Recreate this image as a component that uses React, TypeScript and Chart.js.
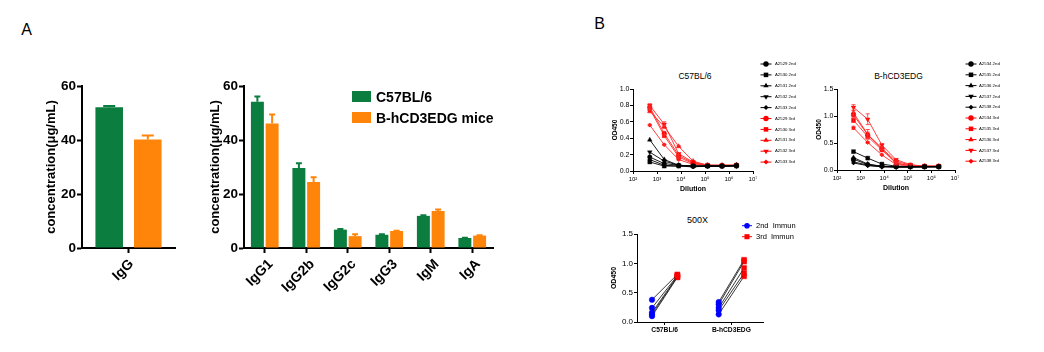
import React, { useEffect, useRef } from 'react';
import { Chart, registerables } from 'chart.js';

Chart.register(...registerables);

const FONT = '"Liberation Sans", Arial, Helvetica, sans-serif';
const GREEN = '#0b7d3e';
const ORANGE = '#ff850a';
const RED = '#ff0000';
const RED_LINE = '#ff2a2a';
const BLUE = '#0000ff';
const BLACK = '#000000';

// ---------------- Panel A data ----------------
const totalCategories = ['IgG'];
const totalC57 = [52.1];
const totalC57Sd = [0.5];
const totalHcd = [40.2];
const totalHcdSd = [1.5];

const subclassCategories = ['IgG1', 'IgG2b', 'IgG2c', 'IgG3', 'IgM', 'IgA'];
const subclassC57 = [54.2, 29.6, 6.8, 4.9, 11.9, 3.7];
const subclassC57Sd = [1.9, 1.8, 0.2, 0.2, 0.2, 0.1];
const subclassHcd = [46.1, 24.4, 4.4, 6.3, 13.7, 4.6];
const subclassHcdSd = [3.3, 1.8, 0.7, 0.1, 0.6, 0.1];

const groupLabels = ['C57BL/6', 'B-hCD3EDG mice'];

// ---------------- Panel B data ----------------
const dilutions = [500, 2000, 8000, 32000, 128000, 512000, 2048000];
const logTickExponents = [2, 3, 4, 5, 6, 7];

const c57SecondLabels = ['A2529 2nd', 'A2530 2nd', 'A2531 2nd', 'A2532 2nd', 'A2533 2nd'];
const c57ThirdLabels = ['A2529 3rd', 'A2530 3rd', 'A2531 3rd', 'A2532 3rd', 'A2533 3rd'];
const c57Second = [
  [0.17, 0.09, 0.07, 0.06, 0.06, 0.06, 0.07],
  [0.11, 0.06, 0.06, 0.06, 0.06, 0.06, 0.06],
  [0.38, 0.14, 0.07, 0.06, 0.06, 0.06, 0.07],
  [0.23, 0.12, 0.07, 0.06, 0.06, 0.06, 0.06],
  [0.14, 0.07, 0.06, 0.05, 0.06, 0.06, 0.06],
];
const c57Third = [
  [0.78, 0.46, 0.19, 0.10, 0.07, 0.07, 0.07],
  [0.76, 0.43, 0.17, 0.09, 0.07, 0.06, 0.07],
  [0.73, 0.54, 0.30, 0.12, 0.07, 0.07, 0.07],
  [0.80, 0.57, 0.21, 0.11, 0.07, 0.07, 0.07],
  [0.56, 0.32, 0.14, 0.08, 0.07, 0.06, 0.07],
];
const c57ThirdSd = [
  [0.02, 0.02, 0.01, 0, 0, 0, 0],
  [0.02, 0.02, 0.01, 0, 0, 0, 0],
  [0.02, 0.02, 0.01, 0, 0, 0, 0],
  [0.02, 0.03, 0.01, 0, 0, 0, 0],
  [0.01, 0.01, 0.01, 0, 0, 0, 0],
];

const hcdSecondLabels = ['A2534 2nd', 'A2535 2nd', 'A2536 2nd', 'A2537 2nd', 'A2538 2nd'];
const hcdThirdLabels = ['A2534 3rd', 'A2535 3rd', 'A2536 3rd', 'A2537 3rd', 'A2538 3rd'];
const hcdSecond = [
  [0.20, 0.10, 0.07, 0.06, 0.06, 0.06, 0.06],
  [0.34, 0.22, 0.11, 0.07, 0.06, 0.06, 0.06],
  [0.23, 0.11, 0.07, 0.06, 0.06, 0.06, 0.06],
  [0.15, 0.09, 0.06, 0.06, 0.06, 0.06, 0.06],
  [0.13, 0.08, 0.06, 0.05, 0.05, 0.06, 0.06],
];
const hcdThird = [
  [1.02, 0.65, 0.40, 0.16, 0.09, 0.07, 0.07],
  [0.92, 0.62, 0.37, 0.13, 0.08, 0.07, 0.07],
  [1.06, 0.66, 0.40, 0.12, 0.08, 0.07, 0.07],
  [1.16, 0.94, 0.46, 0.19, 0.10, 0.07, 0.07],
  [0.78, 0.51, 0.28, 0.10, 0.07, 0.06, 0.07],
];
const hcdThirdSd = [
  [0.04, 0.05, 0.02, 0.01, 0, 0, 0],
  [0.04, 0.03, 0.02, 0.01, 0, 0, 0],
  [0.04, 0.09, 0.03, 0.01, 0, 0, 0],
  [0.05, 0.10, 0.03, 0.02, 0.01, 0, 0],
  [0.03, 0.02, 0.01, 0.01, 0, 0, 0],
];

const markerStyles = ['circle', 'rect', 'triangle', 'triangle', 'rectRot'];
const markerRotations = [0, 0, 0, 180, 0];
const markerRadii = [2.3, 2.8, 2.7, 2.7, 2.1];

const immunGroups = ['C57BL/6', 'B-hCD3EDG'];
const immunLegend = ['2nd  Immun', '3rd  Immun'];
const c57Second500 = [0.38, 0.24, 0.16, 0.13, 0.10];
const c57Third500 = [0.81, 0.79, 0.78, 0.77, 0.76];
const hcdSecond500 = [0.34, 0.30, 0.24, 0.20, 0.13];
const hcdThird500 = [1.06, 1.03, 0.92, 0.83, 0.78];

// ---------------- helpers ----------------
const SUP: Record<string, string> = { '0': '⁰', '1': '¹', '2': '²', '3': '³', '4': '⁴', '5': '⁵', '6': '⁶', '7': '⁷', '8': '⁸', '9': '⁹' };
const sup = (n: number) => String(n).split('').map((c) => SUP[c] || c).join('');

function drawMarker(ctx: CanvasRenderingContext2D, style: string, x: number, y: number, r: number, rot = 0) {
  ctx.save();
  ctx.translate(x, y);
  ctx.rotate((rot * Math.PI) / 180);
  ctx.beginPath();
  if (style === 'circle') {
    ctx.arc(0, 0, r, 0, Math.PI * 2);
  } else if (style === 'rect') {
    const s = r * Math.SQRT1_2;
    ctx.rect(-s, -s, 2 * s, 2 * s);
  } else if (style === 'triangle') {
    for (let k = 0; k < 3; k++) {
      const a = (k * 2 * Math.PI) / 3;
      const px = Math.sin(a) * r;
      const py = -Math.cos(a) * r;
      if (k === 0) ctx.moveTo(px, py);
      else ctx.lineTo(px, py);
    }
    ctx.closePath();
  } else if (style === 'rectRot') {
    ctx.moveTo(0, -r);
    ctx.lineTo(r, 0);
    ctx.lineTo(0, r);
    ctx.lineTo(-r, 0);
    ctx.closePath();
  }
  ctx.fill();
  ctx.restore();
}

const errorBarPlugin = {
  id: 'errorBars',
  afterDatasetsDraw(chart: any) {
    const { ctx } = chart;
    chart.data.datasets.forEach((ds: any, i: number) => {
      const errs = ds.errors;
      if (!errs) return;
      const meta = chart.getDatasetMeta(i);
      const yScale = chart.scales[meta.yAxisID];
      ctx.save();
      ctx.strokeStyle = ds.errorColor;
      ctx.lineWidth = ds.errorWidth;
      meta.data.forEach((el: any, j: number) => {
        const e = errs[j];
        if (!e) return;
        const raw = ds.data[j];
        const v = typeof raw === 'number' ? raw : raw.y;
        const x = el.x;
        const yHi = yScale.getPixelForValue(v + e);
        const yLo = ds.errorBoth ? yScale.getPixelForValue(v - e) : el.y;
        const cw = ds.errorCap / 2;
        ctx.beginPath();
        ctx.moveTo(x, yLo);
        ctx.lineTo(x, yHi);
        ctx.moveTo(x - cw, yHi);
        ctx.lineTo(x + cw, yHi);
        if (ds.errorBoth) {
          ctx.moveTo(x - cw, yLo);
          ctx.lineTo(x + cw, yLo);
        }
        ctx.stroke();
      });
      ctx.restore();
    });
  },
};

type LegendItem = { label: string; color: string; style: string; rotation: number; radius: number };
function makeLegendPlugin(spec: {
  items: LegendItem[];
  x: number;
  y: number;
  dy: number;
  textX: number;
  lineLen: number;
  fontSize: number;
}) {
  return {
    id: 'miniLegend',
    afterDraw(chart: any) {
      const ctx: CanvasRenderingContext2D = chart.ctx;
      spec.items.forEach((it, i) => {
        const y = spec.y + i * spec.dy;
        ctx.save();
        ctx.strokeStyle = it.color;
        ctx.lineWidth = 1;
        ctx.beginPath();
        ctx.moveTo(spec.x - spec.lineLen / 2, y);
        ctx.lineTo(spec.x + spec.lineLen / 2, y);
        ctx.stroke();
        ctx.fillStyle = it.color;
        drawMarker(ctx, it.style, spec.x, y, it.radius, it.rotation);
        ctx.fillStyle = BLACK;
        ctx.font = `${spec.fontSize}px ${FONT}`;
        ctx.textAlign = 'left';
        ctx.textBaseline = 'middle';
        ctx.fillText(it.label, spec.textX, y);
        ctx.restore();
      });
    },
  };
}

// ---------------- chart configs ----------------
function barConfig(p: {
  categories: string[];
  c57: number[];
  c57Sd: number[];
  hcd: number[];
  hcdSd: number[];
  yAxisWidth: number;
  padRight: number;
  padTop: number;
  xAxisHeight: number;
  titlePad: number;
  cp: number;
  bp: number;
  cap: number;
  labelOffset: number;
}) {
  const tickFont = { family: FONT, size: 13.5, weight: 'bold' as const };
  return {
    type: 'bar' as const,
    data: {
      labels: p.categories,
      datasets: [
        {
          label: groupLabels[0],
          data: p.c57,
          backgroundColor: GREEN,
          categoryPercentage: p.cp,
          barPercentage: p.bp,
          errors: p.c57Sd,
          errorColor: GREEN,
          errorWidth: 2,
          errorCap: p.cap,
        },
        {
          label: groupLabels[1],
          data: p.hcd,
          backgroundColor: ORANGE,
          categoryPercentage: p.cp,
          barPercentage: p.bp,
          errors: p.hcdSd,
          errorColor: ORANGE,
          errorWidth: 2,
          errorCap: p.cap,
        },
      ],
    },
    options: {
      responsive: false,
      maintainAspectRatio: false,
      animation: false,
      devicePixelRatio: 1,
      events: [],
      layout: { padding: { left: 0, right: p.padRight, top: p.padTop, bottom: 0 } },
      plugins: { legend: { display: false }, tooltip: { enabled: false } },
      scales: {
        x: {
          grid: { display: true, offset: false, drawOnChartArea: false, drawTicks: true, tickLength: 5, tickWidth: 2, tickColor: BLACK },
          border: { display: true, color: BLACK, width: 2 },
          ticks: {
            color: BLACK,
            font: { family: FONT, size: 14, weight: 'bold' as const },
            minRotation: 45,
            maxRotation: 45,
            padding: 3,
            labelOffset: p.labelOffset,
            autoSkip: false,
          },
          afterFit: (s: any) => {
            s.height = p.xAxisHeight;
          },
        },
        y: {
          min: 0,
          max: 60,
          ticks: { stepSize: 20, color: BLACK, font: tickFont, padding: 1 },
          grid: { display: true, drawOnChartArea: false, drawTicks: true, tickLength: 5, tickWidth: 2, tickColor: BLACK },
          border: { display: true, color: BLACK, width: 2 },
          title: {
            display: true,
            text: 'concentration(μg/mL)',
            color: BLACK,
            font: { family: FONT, size: 13, weight: 'bold' as const },
            padding: { top: p.titlePad, bottom: 0 },
          },
          afterFit: (s: any) => {
            s.width = p.yAxisWidth;
          },
        },
      },
    },
    plugins: [errorBarPlugin],
  };
}

function dilutionConfig(p: {
  second: number[][];
  third: number[][];
  thirdSd: number[][];
  secondLabels: string[];
  thirdLabels: string[];
  yMax: number;
  yStep: number;
  yAxisWidth: number;
  padRight: number;
  padTop: number;
  xAxisHeight: number;
  yTitlePad: number;
  xTitlePad: number;
  legendX: number;
  legendTextX: number;
  legendY: number;
  legendDy: number;
}) {
  const datasets: any[] = [];
  p.second.forEach((vals, i) =>
    datasets.push({
      label: p.secondLabels[i],
      data: dilutions.map((d, j) => ({ x: d, y: vals[j] })),
      borderColor: BLACK,
      backgroundColor: BLACK,
      pointBackgroundColor: BLACK,
      pointBorderColor: BLACK,
      borderWidth: 0.9,
      pointBorderWidth: 0.4,
      pointRadius: markerRadii[i],
      pointStyle: markerStyles[i],
      pointRotation: markerRotations[i],
    })
  );
  p.third.forEach((vals, i) =>
    datasets.push({
      label: p.thirdLabels[i],
      data: dilutions.map((d, j) => ({ x: d, y: vals[j] })),
      borderColor: RED_LINE,
      backgroundColor: RED,
      pointBackgroundColor: RED,
      pointBorderColor: RED,
      borderWidth: 0.9,
      pointBorderWidth: 0.4,
      pointRadius: markerRadii[i],
      pointStyle: markerStyles[i],
      pointRotation: markerRotations[i],
      errors: p.thirdSd[i],
      errorBoth: true,
      errorColor: RED_LINE,
      errorWidth: 0.8,
      errorCap: 4,
    })
  );
  const items: LegendItem[] = datasets.map((ds, i) => ({
    label: ds.label,
    color: i < 5 ? BLACK : RED,
    style: markerStyles[i % 5],
    rotation: markerRotations[i % 5],
    radius: markerRadii[i % 5] + 0.4,
  }));
  return {
    type: 'line' as const,
    data: { datasets },
    options: {
      responsive: false,
      maintainAspectRatio: false,
      animation: false,
      devicePixelRatio: 1,
      events: [],
      layout: { padding: { left: 0, right: p.padRight, top: p.padTop, bottom: 0 } },
      plugins: { legend: { display: false }, tooltip: { enabled: false } },
      scales: {
        x: {
          type: 'logarithmic' as const,
          min: 100,
          max: 1e7,
          afterBuildTicks: (s: any) => {
            s.ticks = logTickExponents.map((e) => ({ value: Math.pow(10, e) }));
          },
          ticks: {
            autoSkip: false,
            maxRotation: 0,
            color: BLACK,
            padding: 1.5,
            font: { family: FONT, size: 6 },
            callback: (v: any) => '10' + sup(Math.round(Math.log10(Number(v)))),
          },
          grid: { display: true, drawOnChartArea: false, drawTicks: true, tickLength: 3, tickWidth: 1, tickColor: BLACK },
          border: { display: true, color: BLACK, width: 1 },
          title: {
            display: true,
            text: 'Dilution',
            color: BLACK,
            font: { family: FONT, size: 7, weight: 'bold' as const },
            padding: { top: 0, bottom: p.xTitlePad },
          },
          afterFit: (s: any) => {
            s.height = p.xAxisHeight;
          },
        },
        y: {
          min: 0,
          max: p.yMax,
          ticks: {
            stepSize: p.yStep,
            color: BLACK,
            padding: 0.5,
            font: { family: FONT, size: 7 },
            callback: (v: any) => Number(v).toFixed(1),
          },
          grid: { display: true, drawOnChartArea: false, drawTicks: true, tickLength: 3, tickWidth: 1, tickColor: BLACK },
          border: { display: true, color: BLACK, width: 1 },
          title: {
            display: true,
            text: 'OD450',
            color: BLACK,
            font: { family: FONT, size: 6.5, weight: 'bold' as const },
            padding: { top: p.yTitlePad, bottom: 0 },
          },
          afterFit: (s: any) => {
            s.width = p.yAxisWidth;
          },
        },
      },
    },
    plugins: [
      errorBarPlugin,
      makeLegendPlugin({
        items,
        x: p.legendX,
        y: p.legendY,
        dy: p.legendDy,
        textX: p.legendTextX,
        lineLen: 11,
        fontSize: 4.3,
      }),
    ],
  };
}

function pairedConfig() {
  const offset = 0.19;
  const datasets: any[] = [];
  const groups = [
    { second: c57Second500, third: c57Third500 },
    { second: hcdSecond500, third: hcdThird500 },
  ];
  groups.forEach((g, gi) => {
    g.second.forEach((v, k) => {
      datasets.push({
        label: `${immunGroups[gi]} ${k + 1}`,
        data: [
          { x: gi + 1 - offset, y: v },
          { x: gi + 1 + offset, y: g.third[k] },
        ],
        borderColor: '#222222',
        borderWidth: 0.9,
        pointBackgroundColor: [BLUE, RED],
        pointBorderColor: [BLUE, RED],
        pointBorderWidth: 0.4,
        pointStyle: ['circle', 'rect'],
        pointRadius: [2.8, 3.6],
      });
    });
  });
  const items: LegendItem[] = [
    { label: immunLegend[0], color: BLUE, style: 'circle', rotation: 0, radius: 2.8 },
    { label: immunLegend[1], color: RED, style: 'rect', rotation: 0, radius: 3.6 },
  ];
  return {
    type: 'line' as const,
    data: { datasets },
    options: {
      responsive: false,
      maintainAspectRatio: false,
      animation: false,
      devicePixelRatio: 1,
      events: [],
      layout: { padding: { left: 0, right: 37, top: 22, bottom: 0 } },
      plugins: { legend: { display: false }, tooltip: { enabled: false } },
      scales: {
        x: {
          type: 'linear' as const,
          min: 0.585,
          max: 2.474,
          afterBuildTicks: (s: any) => {
            s.ticks = immunGroups.map((_, i) => ({ value: i + 1 }));
          },
          ticks: {
            autoSkip: false,
            maxRotation: 0,
            color: BLACK,
            padding: 1,
            font: { family: FONT, size: 6.7, weight: 'bold' as const },
            callback: (v: any) => immunGroups[Math.round(Number(v)) - 1],
          },
          grid: { display: true, drawOnChartArea: false, drawTicks: true, tickLength: 3, tickWidth: 1, tickColor: BLACK },
          border: { display: true, color: BLACK, width: 1 },
          afterFit: (s: any) => {
            s.height = 30;
          },
        },
        y: {
          min: 0,
          max: 1.5,
          ticks: {
            stepSize: 0.5,
            color: BLACK,
            padding: 1,
            font: { family: FONT, size: 8 },
            callback: (v: any) => Number(v).toFixed(1),
          },
          grid: { display: true, drawOnChartArea: false, drawTicks: true, tickLength: 3, tickWidth: 1, tickColor: BLACK },
          border: { display: true, color: BLACK, width: 1 },
          title: {
            display: true,
            text: 'OD450',
            color: BLACK,
            font: { family: FONT, size: 7, weight: 'bold' as const },
            padding: { top: 10.3, bottom: 0 },
          },
          afterFit: (s: any) => {
            s.width = 37;
          },
        },
      },
    },
    plugins: [
      makeLegendPlugin({ items, x: 147, y: 13.7, dy: 11, textX: 156, lineLen: 10, fontSize: 7.5 }),
    ],
  };
}

// ---------------- components ----------------
function ChartCanvas(props: { left: number; top: number; width: number; height: number; make: () => any }) {
  const ref = useRef<HTMLCanvasElement>(null);
  const { left, top, width, height, make } = props;
  useEffect(() => {
    const chart = new Chart(ref.current as HTMLCanvasElement, make());
    return () => chart.destroy();
  }, [make]);
  return (
    <canvas
      ref={ref}
      width={width}
      height={height}
      style={{ position: 'absolute', left, top, width, height }}
    />
  );
}

function Label(props: { x: number; y: number; text: string; size: number; weight?: string; align?: string }) {
  const { x, y, text, size, weight = 'normal', align = 'center' } = props;
  const tx = align === 'center' ? '-50%' : align === 'right' ? '-100%' : '0';
  return (
    <div
      style={{
        position: 'absolute',
        left: x,
        top: y,
        transform: `translate(${tx}, -50%)`,
        fontSize: size,
        fontWeight: weight as any,
        lineHeight: 1,
        whiteSpace: 'nowrap',
        fontFamily: FONT,
        color: BLACK,
      }}
    >
      {text}
    </div>
  );
}

const makeTotal = () =>
  barConfig({
    categories: totalCategories,
    c57: totalC57,
    c57Sd: totalC57Sd,
    hcd: totalHcd,
    hcdSd: totalHcdSd,
    yAxisWidth: 82,
    padRight: 25,
    padTop: 26,
    xAxisHeight: 44,
    titlePad: 43.6,
    cp: 0.83,
    bp: 0.714,
    cap: 12,
    labelOffset: 3,
  });

const makeSubclass = () =>
  barConfig({
    categories: subclassCategories,
    c57: subclassC57,
    c57Sd: subclassC57Sd,
    hcd: subclassHcd,
    hcdSd: subclassHcdSd,
    yAxisWidth: 44,
    padRight: 7,
    padTop: 26,
    xAxisHeight: 44,
    titlePad: 7.6,
    cp: 0.71,
    bp: 0.88,
    cap: 6,
    labelOffset: 6,
  });

const makeC57 = () =>
  dilutionConfig({
    second: c57Second,
    third: c57Third,
    thirdSd: c57ThirdSd,
    secondLabels: c57SecondLabels,
    thirdLabels: c57ThirdLabels,
    yMax: 1.0,
    yStep: 0.2,
    yAxisWidth: 33,
    padRight: 67,
    padTop: 39,
    xAxisHeight: 29,
    yTitlePad: 11.6,
    xTitlePad: 6.3,
    legendX: 166,
    legendTextX: 175,
    legendY: 14,
    legendDy: 10.9,
  });

const makeHcd = () =>
  dilutionConfig({
    second: hcdSecond,
    third: hcdThird,
    thirdSd: hcdThirdSd,
    secondLabels: hcdSecondLabels,
    thirdLabels: hcdThirdLabels,
    yMax: 1.5,
    yStep: 0.5,
    yAxisWidth: 32,
    padRight: 89,
    padTop: 39,
    xAxisHeight: 30,
    yTitlePad: 10.1,
    xTitlePad: 7.8,
    legendX: 166,
    legendTextX: 174,
    legendY: 14,
    legendDy: 10.8,
  });

export default function App() {
  return (
    <div
      style={{
        position: 'absolute',
        left: 0,
        top: 0,
        width: 1044,
        height: 352,
        background: '#ffffff',
        overflow: 'hidden',
        fontFamily: FONT,
      }}
    >
      <Label x={26.5} y={30} text="A" size={16} />
      <Label x={599.5} y={24} text="B" size={16} />

      <ChartCanvas left={0} top={60} width={200} height={232} make={makeTotal} />
      <ChartCanvas left={200} top={60} width={300} height={232} make={makeSubclass} />

      <div style={{ position: 'absolute', left: 352, top: 91, width: 19, height: 11, background: GREEN }} />
      <div style={{ position: 'absolute', left: 352, top: 112, width: 19, height: 11, background: ORANGE }} />
      <Label x={376} y={96.5} text={groupLabels[0]} size={14} weight="bold" align="left" />
      <Label x={376} y={117.5} text={groupLabels[1]} size={14} weight="bold" align="left" />

      <Label x={695} y={76} text="C57BL/6" size={8.5} />
      <Label x={898.5} y={76} text="B-hCD3EDG" size={8.5} />
      <Label x={697.5} y={220} text="500X" size={9} />

      <ChartCanvas left={600} top={50} width={220} height={150} make={makeC57} />
      <ChartCanvas left={805} top={50} width={239} height={150} make={makeHcd} />
      <ChartCanvas left={600} top={212} width={200} height={140} make={pairedConfig} />
    </div>
  );
}
